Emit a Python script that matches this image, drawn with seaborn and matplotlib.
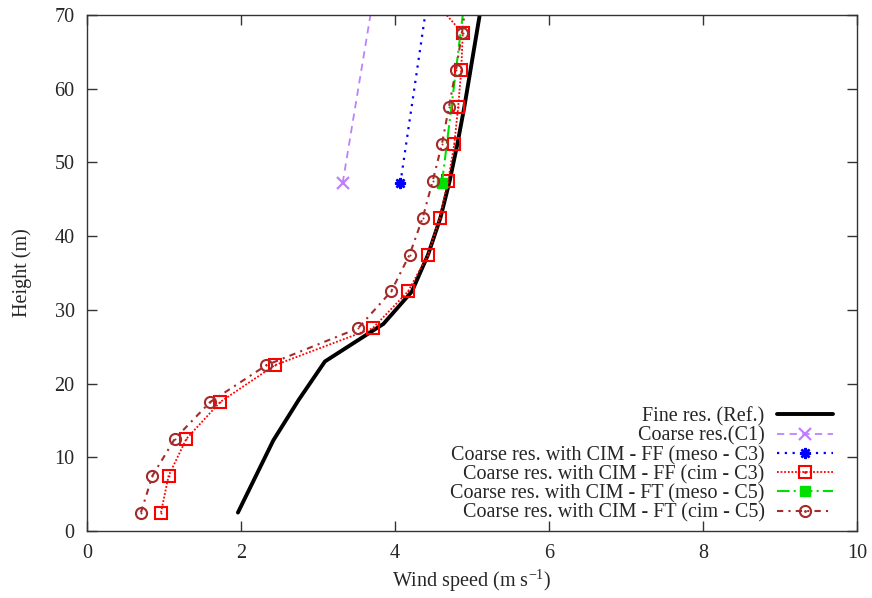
import numpy as np
import pandas as pd
import seaborn as sns
import matplotlib
matplotlib.use("Agg")
import matplotlib.pyplot as plt
from matplotlib.lines import Line2D
from matplotlib.legend_handler import HandlerTuple

# ---- data ----
fine_ws = [1.96, 2.42, 2.75, 3.09, 3.85, 4.22, 4.43, 4.59, 4.71, 4.81, 4.90, 4.98, 5.06, 5.14]
fine_h = [2.5, 12.3, 17.8, 23.0, 28.1, 32.5, 37.5, 42.5, 47.5, 52.5, 57.5, 62.5, 67.5, 72.5]

c1_ws = [3.32, 4.79]
c1_h = [47.2, 140.0]

ff_meso_ws = [4.07, 5.38]
ff_meso_h = [47.2, 140.0]

cim_h = [2.5, 7.5, 12.5, 17.5, 22.5, 27.5, 32.5, 37.5, 42.5, 47.5, 52.5, 57.5, 62.5, 67.5, 72.5]
ff_cim_ws = [0.96, 1.06, 1.29, 1.73, 2.44, 3.71, 4.17, 4.43, 4.58, 4.69, 4.77, 4.82, 4.86, 4.88, 4.46]

ft_meso_ws = [4.61, 5.71]
ft_meso_h = [47.2, 140.0]

ft_cim_ws = [0.70, 0.85, 1.14, 1.60, 2.33, 3.52, 3.95, 4.19, 4.36, 4.49, 4.61, 4.70, 4.79, 4.87, 4.93]

labels = ["Fine res. (Ref.)", "Coarse res.(C1)", "Coarse res. with CIM - FF (meso - C3)",
          "Coarse res. with CIM - FF (cim - C3)", "Coarse res. with CIM - FT (meso - C5)",
          "Coarse res. with CIM - FT (cim - C5)"]

sns.set_style("ticks")
plt.rcParams['font.family'] = ['Liberation Serif', 'DejaVu Serif']
plt.rcParams['mathtext.fontset'] = 'custom'
plt.rcParams['mathtext.rm'] = 'Liberation Serif'

FS = 14.5

fig = plt.figure(figsize=(8.72, 5.98), dpi=100)
ax = fig.add_axes([87/872, 1-531/598, 770/872, 516/598])

purple = "#bf80ff"
blue = "#0000ff"
red = "#ff0000"
green = "#00e000"
brown = "#a52a2a"

styles = {
    "fine": dict(color="black", lw=2.8, linestyle="-"),
    "c1": dict(color=purple, lw=1.3, linestyle=(0, (4, 3)), marker="x", markersize=8, mew=1.6, mec=purple),
    "ffm": dict(color=blue, lw=1.6, linestyle=(0, (1, 2.5)), marker=(8, 2, 0), markersize=8, mew=1.8, mec=blue),
    "ffc": dict(color=red, lw=1.3, linestyle=(0, (1, 1)), marker="s", markersize=8, mfc="none", mew=1.5, mec=red),
    "ftm": dict(color=green, lw=1.5, linestyle=(0, (6, 2, 1, 2)), marker="s", markersize=7, mew=1, mec=green, mfc=green),
    "ftc": dict(color=brown, lw=1.5, linestyle=(0, (3, 2.5, 1, 2.5)), marker="o", markersize=8, mfc="none", mew=1.5, mec=brown),
}

def draw(ws, h, st):
    df = pd.DataFrame({"ws": ws, "h": h})
    sns.lineplot(data=df, x="ws", y="h", sort=False, estimator=None, ax=ax, **st)

draw(fine_ws, fine_h, styles["fine"])
draw(c1_ws, c1_h, styles["c1"])
draw(ff_meso_ws, ff_meso_h, styles["ffm"])
draw(ff_cim_ws, cim_h, styles["ffc"])
ax.scatter(ff_cim_ws, cim_h, s=2, color=red, zorder=5, linewidths=0)
draw(ft_meso_ws, ft_meso_h, styles["ftm"])
draw(ft_cim_ws, cim_h, styles["ftc"])
ax.scatter(ft_cim_ws, cim_h, s=2, color=brown, zorder=5, linewidths=0)

ax.set_xlim(0, 10)
ax.set_ylim(0, 70)
ax.set_xticks(np.arange(0, 11, 2))
ax.set_yticks(np.arange(0, 71, 10))
ax.tick_params(direction="in", length=7, width=1, top=True, right=True, labelsize=FS,
               color="#333333", pad=9)
for s in ax.spines.values():
    s.set_color("#333333")
    s.set_linewidth(1)
ax.set_xlabel("Wind speed (m s$^{\\mathregular{-1}}$)", fontsize=FS, labelpad=3)
ax.set_ylabel("Height (m)", fontsize=FS, labelpad=16)

handles = [Line2D([], [], **styles["fine"]),
           Line2D([], [], **styles["c1"]),
           Line2D([], [], **styles["ffm"]),
           (Line2D([], [], **styles["ffc"]), Line2D([], [], color=red, lw=0, marker=".", markersize=2)),
           Line2D([], [], **styles["ftm"]),
           (Line2D([], [], **styles["ftc"]), Line2D([], [], color=brown, lw=0, marker=".", markersize=2))]

leg = ax.legend(handles, labels,
                handler_map={tuple: HandlerTuple(ndivide=1)},
                loc="lower right", bbox_to_anchor=(0.969, 0.016), frameon=False,
                markerfirst=False, fontsize=FS, handlelength=2.8, handletextpad=0.6,
                labelspacing=0.0, borderpad=0, borderaxespad=0, numpoints=1)

fig.savefig("out.png", dpi=100)
